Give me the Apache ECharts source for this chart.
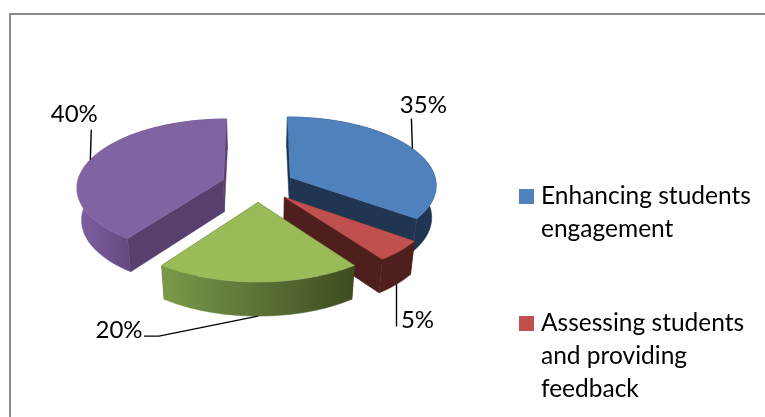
<!DOCTYPE html>
<html>
<head>
<meta charset="utf-8">
<style>html,body{margin:0;padding:0;background:#fff}#c{width:765px;height:417px}</style>
<script src="https://cdn.jsdelivr.net/npm/echarts@6/dist/echarts.min.js"></script>
</head>
<body>
<div id="c"></div>
<script>
const categories = ['Enhancing students\nengagement', 'Assessing students\nand providing\nfeedback', 'Slice 3', 'Slice 4'];
const values = [35, 5, 20, 40];
const topColors = ['#4f81bd', '#c0504d', '#9bbb59', '#8064a2'];
const radialColors = ['#1f3552', '#4f1f1d', '#3f4f20', '#573f6e'];
const wallStops = [
  [[0, '#1f3552'], [1, '#1f3552']],
  [[0, '#4f1f1d'], [1, '#4f1f1d']],
  [[0, '#7a9a48'], [0.5, '#5c7337'], [1, '#3d4c1e']],
  [[0, '#7f60a3'], [0.35, '#63497f'], [1, '#573f6e']]
];
const labelLines = [ // offsets from the slice's outer mid-point to leader bends, then label centre
  {bends: [[-1, -30]], text: [11, -43]},
  {bends: [[0, 42]], text: [21, 36]},
  {bends: [[-99, 20], [-114, 20]], text: [-139, 14]},
  {bends: [[1, -30]], text: [-16, -45]}
];
const C = {x: 258, y: 185, a: 146.5, b: 67.9, p: 0.1, depth: 32, shrink: 0.975, explode: 0.25, steps: 48};
const FONT = 'Lato';
const total = values.reduce((s, v) => s + v, 0);

function project(X, Y, down) {
  const w = 1 / (1 - C.p * Y);
  const s = down ? C.shrink : 1;
  return [C.x + C.a * X * w * s, C.y + C.b * Y * w * s + (down ? C.depth * w : 0)];
}
function renderSlice(params, api) {
  const i = params.seriesIndex;
  const start = values.slice(0, i).reduce((s, v) => s + v, 0) / total * 2 * Math.PI;
  const end = start + api.value(0) / total * 2 * Math.PI;
  const mid = (start + end) / 2;
  const ex = C.explode * Math.sin(mid), ey = -C.explode * Math.cos(mid);
  const rim = [];
  for (let k = 0; k <= C.steps; k++) {
    const t = start + (end - start) * k / C.steps;
    rim.push([ex + Math.sin(t), ey - Math.cos(t)]);
  }
  const top = rim.map(q => project(q[0], q[1], false));
  const bottom = rim.map(q => project(q[0], q[1], true)).reverse();
  const apexT = project(ex, ey, false), apexB = project(ex, ey, true);
  const wall = top.concat(bottom);
  const n = top.length - 1;
  const poly = (points, fill) => ({type: 'polygon', shape: {points}, style: {fill, stroke: fill, lineWidth: 0.5}});
  const grad = new echarts.graphic.LinearGradient(0, 0, 1, 0, wallStops[i].map(s => ({offset: s[0], color: s[1]})));

  const outX = ex + Math.sin(mid), outY = ey - Math.cos(mid);
  const isFront = Math.cos(mid) < -0.5;
  const anchor = project(outX, outY, isFront);
  const ll = labelLines[i];
  const linePts = [anchor].concat(ll.bends.map(b => [anchor[0] + b[0], anchor[1] + b[1]]));

  return {type: 'group', children: [
    poly([apexT, top[0], project(rim[0][0], rim[0][1], true), apexB], radialColors[i]),
    poly([apexT, top[n], project(rim[n][0], rim[n][1], true), apexB], radialColors[i]),
    poly(wall, grad),
    poly([apexT].concat(top), topColors[i]),
    {type: 'polyline', shape: {points: linePts}, style: {stroke: '#000', lineWidth: 1.4, fill: null}},
    {type: 'text', style: {
      text: Math.round(api.value(0) / total * 100) + '%',
      x: anchor[0] + ll.text[0], y: anchor[1] + ll.text[1],
      align: 'center', verticalAlign: 'middle',
      fill: '#000', font: '24px ' + FONT
    }}
  ]};
}
function legendOf(idx, top) {
  return {
    show: true, orient: 'vertical', left: 519, top, padding: 0,
    data: [categories[idx]], itemWidth: 15, itemHeight: 15, icon: 'rect', selectedMode: false,
    // leading blank lines keep the marker level with the first text line
    formatter: name => '\n'.repeat(name.split('\n').length - 1) + name,
    textStyle: {fontFamily: FONT, fontSize: 24.5, color: '#000', lineHeight: 33, padding: [0, 0, 0, 2]}
  };
}
const chart = echarts.init(document.getElementById('c'), null, {renderer: 'canvas'});
chart.setOption({
  animation: false,
  backgroundColor: '#fff',
  graphic: [{type: 'rect', silent: true, z: -1, shape: {x: 10, y: 14, width: 800, height: 450},
    style: {fill: 'none', stroke: '#8a8a8a', lineWidth: 2}}],
  legend: [legendOf(0, 147), legendOf(1, 241)],
  series: categories.map((name, i) => ({
    type: 'custom', name, coordinateSystem: 'none', silent: true,
    itemStyle: {color: topColors[i]},
    data: [[values[i]]],
    renderItem: renderSlice
  }))
});
</script>
</body>
</html>
